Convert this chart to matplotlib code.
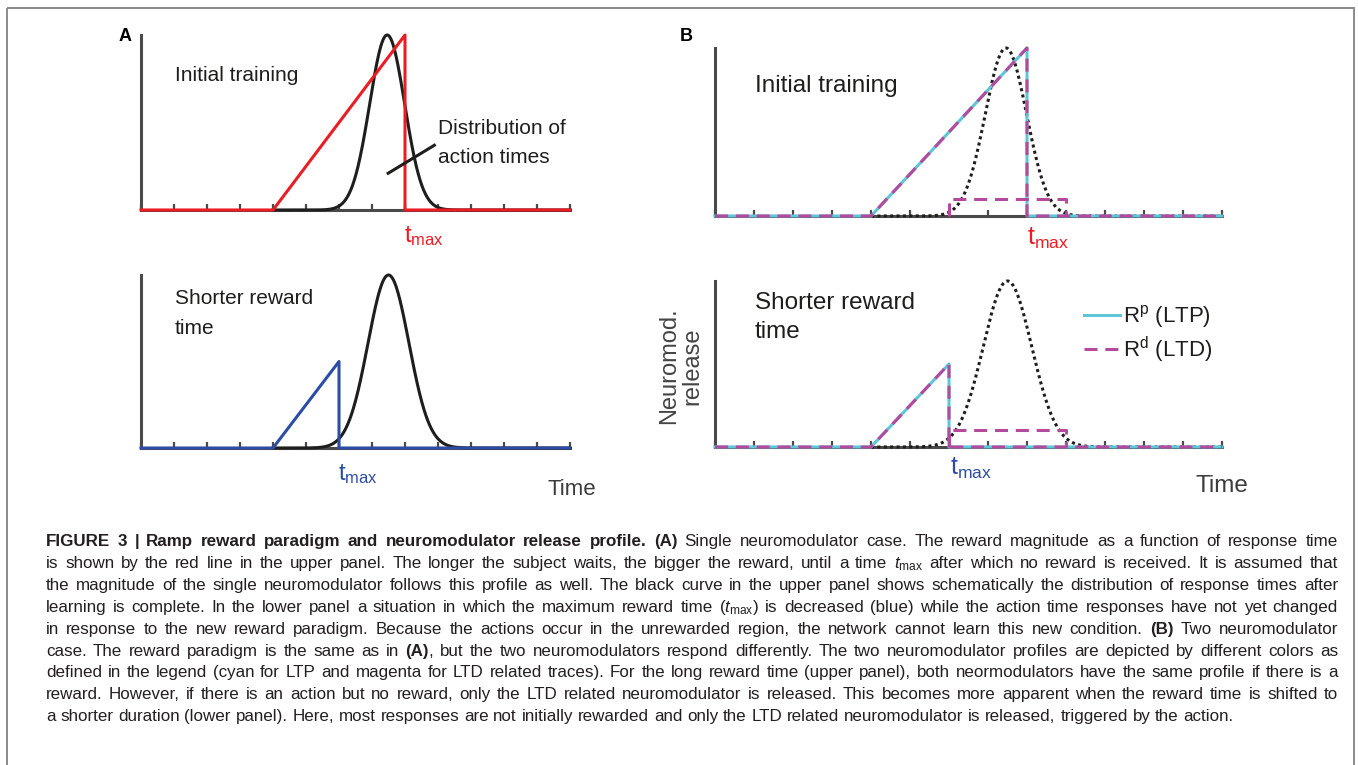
import numpy as np
import matplotlib
matplotlib.use("Agg")
import matplotlib.pyplot as plt
from matplotlib.patches import Rectangle

plt.rcParams['mathtext.fontset'] = 'custom'
plt.rcParams['mathtext.rm'] = 'Liberation Sans'
plt.rcParams['mathtext.it'] = 'Liberation Sans:italic'
plt.rcParams['lines.scale_dashes'] = False

W, H = 1358, 765

# ---- data (schematic) ----
time_ticks = list(range(0, 14))
reward_t_initial = [0, 4, 8, 8, 13]          # ramp ending at t_max = 8
reward_initial = [0, 0, 1.0, 0, 0]
reward_t_shorter = [0, 4, 6, 6, 13]          # shorter t_max = 6
reward_shorter = [0, 0, 0.5, 0, 0]
ltd_t = [6, 6, 9, 9]                         # LTD-only release during actions
ltd_only = [0, 0.1, 0.1, 0]
action_mean = [7.46, 7.5]                    # upper, lower panel
action_sd = [0.53, 0.62]
action_peak = [1.0, 1.0]
pointer_t = [7.49, 8.89]
pointer_y = [0.21, 0.37]

RED = '#EC1C24'
BLUE = '#2D4CA6'
CYAN = '#5EC6D6'
MAG = '#B34A9D'
AXC = '#4a4a4a'
INK = '#1e1e1c'
LW = 2.2

NARROW = ['Liberation Sans Narrow', 'Liberation Sans', 'DejaVu Sans']
REG = ['Liberation Sans', 'DejaVu Sans']

fig = plt.figure(figsize=(W / 100, H / 100), dpi=100)


def panel(box):
    x0, y0, x1, y1 = box
    ax = fig.add_axes([x0 / W, 1 - y1 / H, (x1 - x0) / W, (y1 - y0) / H])
    ax.set_xlim(0, 13)
    ax.set_ylim(0, 1)
    for s in ['top', 'right']:
        ax.spines[s].set_visible(False)
    for s in ['left', 'bottom']:
        ax.spines[s].set_color(AXC)
        ax.spines[s].set_linewidth(LW)
    ax.set_xticks(time_ticks)
    ax.set_yticks([])
    ax.tick_params(axis='x', direction='in', length=4.5, width=1.6,
                   color=AXC, labelbottom=False)
    ax.patch.set_visible(False)
    return ax


def bell(i):
    t = np.linspace(4, 13, 500)
    return t, action_peak[i] * np.exp(-0.5 * ((t - action_mean[i]) / action_sd[i]) ** 2)


axA1 = panel((141, 35, 570, 210))
axA2 = panel((141, 275, 570, 448))
axB1 = panel((715, 48, 1222, 216))
axB2 = panel((715, 281, 1222, 447))

# panel A
t, g = bell(0)
axA1.plot(t, g, color=INK, lw=LW, zorder=3, clip_on=False)
axA1.plot(reward_t_initial, reward_initial, color=RED, lw=LW, zorder=4, clip_on=False)
axA1.plot(pointer_t, pointer_y, color=INK, lw=LW, zorder=5, clip_on=False)
t, g = bell(1)
axA2.plot(t, g, color=INK, lw=LW, zorder=3, clip_on=False)
axA2.plot(reward_t_shorter, reward_shorter, color=BLUE, lw=LW, zorder=4, clip_on=False)

# panel B
dash = (0, (9.4, 5.6))
dots = (0, (2.2, 2.4))
for ax, i, rt, rv in [(axB1, 0, reward_t_initial, reward_initial),
                      (axB2, 1, reward_t_shorter, reward_shorter)]:
    t, g = bell(i)
    ax.plot(t, g, color=INK, lw=LW, ls=dots, dash_capstyle='butt', zorder=3, clip_on=False)
    lp, = ax.plot(rt, rv, color=CYAN, lw=LW, zorder=4, clip_on=False, label=r'R$^\mathregular{p}$ (LTP)')
    ld, = ax.plot(rt, rv, color=MAG, lw=LW, ls=dash, dash_capstyle='butt', zorder=5,
                  clip_on=False, label=r'R$^\mathregular{d}$ (LTD)')
    ax.plot(ltd_t, ltd_only, color=MAG, lw=LW, ls=dash, dash_capstyle='butt', zorder=5, clip_on=False)

axB2.legend(handles=[lp, ld], loc='upper left', frameon=False,
            bbox_to_anchor=(1084 / W, 1 - 303 / H), bbox_transform=fig.transFigure,
            borderpad=0, borderaxespad=0, handlelength=1.6, handletextpad=0.15,
            labelspacing=0.2, prop={'family': REG, 'size': 16})
for txt in axB2.get_legend().get_texts():
    txt.set_color(INK)

# overlay in pixel coordinates for labels and caption
ov = fig.add_axes([0, 0, 1, 1], zorder=10)
ov.set_xlim(0, W)
ov.set_ylim(H, 0)
ov.axis('off')

ov.add_patch(Rectangle((7, 8), 1347, 800, fill=False, ec='#8a8a8a', lw=1.4))

ov.text(119, 41, 'A', fontsize=13, fontweight='bold', family=REG, color='black', va='baseline')
ov.text(680, 41, 'B', fontsize=13, fontweight='bold', family=REG, color='black', va='baseline')

# panel A texts (condensed look -> slightly smaller size)
FA = 15
ov.text(175, 81, 'Initial training', fontsize=FA, family=NARROW, color=INK, va='baseline')
ov.text(438, 134, 'Distribution of', fontsize=FA, family=NARROW, color=INK, va='baseline')
ov.text(438, 163, 'action times', fontsize=FA, family=NARROW, color=INK, va='baseline')
ov.text(404, 242, r'$\mathregular{t_{max}}$', fontsize=17, family=NARROW, color=RED, va='baseline')
ov.text(175, 304, 'Shorter reward', fontsize=FA, family=NARROW, color=INK, va='baseline')
ov.text(175, 334, 'time', fontsize=FA, family=NARROW, color=INK, va='baseline')
ov.text(338, 480, r'$\mathregular{t_{max}}$', fontsize=17, family=NARROW, color=BLUE, va='baseline')
ov.text(548, 495, 'Time', fontsize=16, family=NARROW, color='#3c3c3c', va='baseline')

# panel B texts
ov.text(755, 92, 'Initial training', fontsize=17.5, family=REG, color=INK, va='baseline')
ov.text(755, 309, 'Shorter reward', fontsize=17.5, family=REG, color=INK, va='baseline')
ov.text(755, 338, 'time', fontsize=17.5, family=REG, color=INK, va='baseline')
ov.text(1027, 245, r'$\mathregular{t_{max}}$', fontsize=18, family=REG, color=RED, va='baseline')
ov.text(950, 475, r'$\mathregular{t_{max}}$', fontsize=18, family=REG, color=BLUE, va='baseline')
ov.text(1195, 492, 'Time', fontsize=17.5, family=REG, color='#3c3c3c', va='baseline')
ov.text(681, 366, 'Neuromod.\nrelease', fontsize=17, family=REG, color='#444444',
        rotation=90, ha='center', va='center', multialignment='center', linespacing=1.05)

# caption, justified word by word
caption_lines = [
    "*FIGURE 3 | Ramp reward paradigm and neuromodulator release profile. (A)* Single neuromodulator case. The reward magnitude as a function of response time",
    r"is shown by the red line in the upper panel. The longer the subject waits, the bigger the reward, until a time $t_{\mathrm{max}}$ after which no reward is received. It is assumed that",
    "the magnitude of the single neuromodulator follows this profile as well. The black curve in the upper panel shows schematically the distribution of response times after",
    r"learning is complete. In the lower panel a situation in which the maximum reward time ($t_{\mathrm{max}}$) is decreased (blue) while the action time responses have not yet changed",
    "in response to the new reward paradigm. Because the actions occur in the unrewarded region, the network cannot learn this new condition. *(B)* Two neuromodulator",
    "case. The reward paradigm is the same as in *(A)*, but the two neuromodulators respond differently. The two neuromodulator profiles are depicted by different colors as",
    "defined in the legend (cyan for LTP and magenta for LTD related traces). For the long reward time (upper panel), both neormodulators have the same profile if there is a",
    "reward. However, if there is an action but no reward, only the LTD related neuromodulator is released. This becomes more apparent when the reward time is shifted to",
    "a shorter duration (lower panel). Here, most responses are not initially rewarded and only the LTD related neuromodulator is released, triggered by the action.",
]
cap_left, cap_right, last_end = 46, 1338, 1240
cap_base0, cap_pitch = 546, 21.9
CAPF = ['Liberation Sans', 'DejaVu Sans']
CAPC = '#231f20'

renderer = fig.canvas.get_renderer()


def measure(s, bold, size):
    t = ov.text(0, 0, s, fontsize=size, family=CAPF, fontweight='bold' if bold else 'normal')
    w = t.get_window_extent(renderer).width
    t.remove()
    return w


def split_words(lines):
    out = []
    bold = False
    for line in lines:
        words = []
        for w in line.split(' '):
            runs = []
            for k, part in enumerate(w.split('*')):
                if k:
                    bold = not bold
                if part:
                    runs.append((part, bold))
            words.append(runs)
        out.append(words)
    return out


parsed = split_words(caption_lines)

# font size from the width of the (unjustified) last line
base = 10.0
sp = measure('a a', False, base) - measure('aa', False, base)
nat = sum(measure(s, b, base) for r in parsed[-1] for s, b in r) + sp * (len(parsed[-1]) - 1)
size = base * (last_end - cap_left) / nat
space = sp * size / base

for i, words in enumerate(parsed):
    widths = [[measure(s, b, size) for s, b in r] for r in words]
    total = sum(sum(ws) for ws in widths)
    if i < len(parsed) - 1:
        gap = (cap_right - cap_left - total) / (len(words) - 1)
    else:
        gap = space
    x = cap_left
    y = round(cap_base0 + i * cap_pitch)
    for r, ws in zip(words, widths):
        for (s, b), w in zip(r, ws):
            ov.text(x, y, s, fontsize=size, family=CAPF, color=CAPC,
                    fontweight='bold' if b else 'normal', va='baseline')
            x += w
        x += gap

fig.savefig('out.png', dpi=100)
